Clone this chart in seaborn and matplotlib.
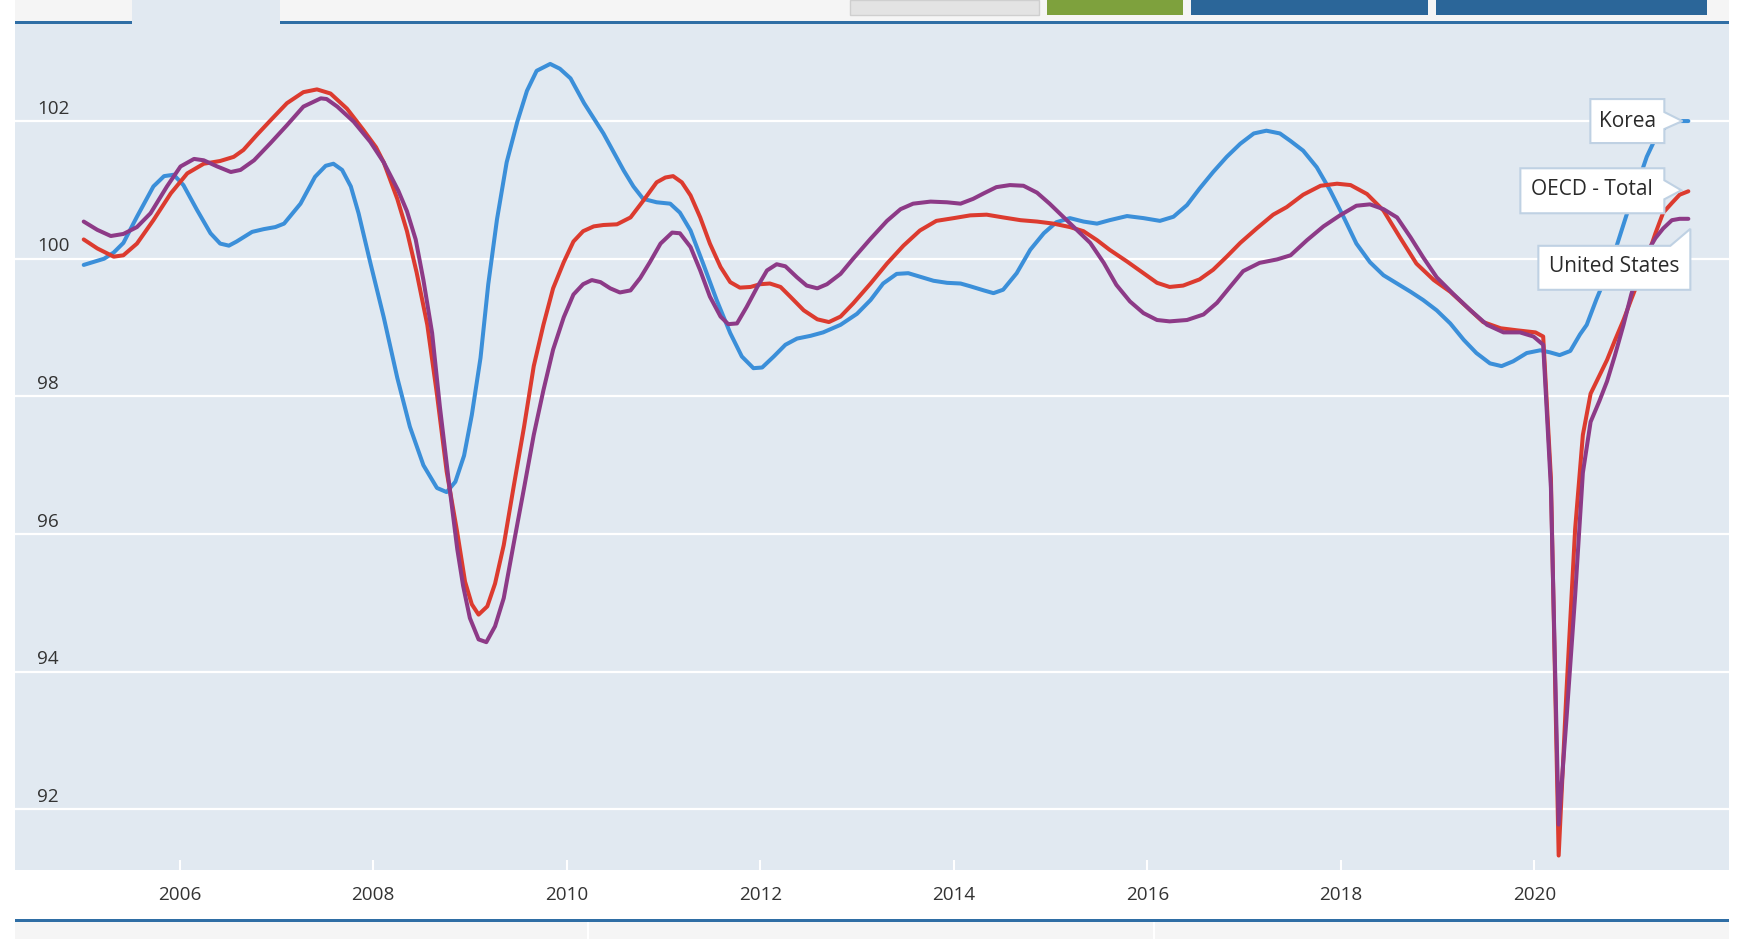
import pandas as pd
import matplotlib.pyplot as plt
import matplotlib.patches as mpatches
import matplotlib.transforms as mtransforms
import seaborn as sns

# values (decimal year, CLI value)
korea_year = [2005.01, 2005.22, 2005.32, 2005.42, 2005.56, 2005.73, 2005.84, 2005.94, 2006.04, 2006.18,
              2006.32, 2006.42, 2006.51, 2006.59, 2006.75, 2006.87, 2006.99, 2007.08, 2007.25, 2007.40,
              2007.51, 2007.59, 2007.68, 2007.77, 2007.85, 2007.97, 2008.11, 2008.25, 2008.38, 2008.52,
              2008.66, 2008.76, 2008.85, 2008.94, 2009.02, 2009.11, 2009.19, 2009.28, 2009.38, 2009.49,
              2009.59, 2009.69, 2009.83, 2009.93, 2010.04, 2010.18, 2010.38, 2010.59, 2010.69, 2010.79,
              2010.93, 2011.07, 2011.17, 2011.28, 2011.41, 2011.55, 2011.69, 2011.81, 2011.93, 2012.02,
              2012.14, 2012.26, 2012.38, 2012.52, 2012.65, 2012.83, 2013.00, 2013.14, 2013.27, 2013.41,
              2013.53, 2013.65, 2013.79, 2013.93, 2014.07, 2014.17, 2014.31, 2014.41, 2014.51, 2014.65,
              2014.79, 2014.93, 2015.06, 2015.20, 2015.34, 2015.48, 2015.61, 2015.79, 2015.96, 2016.13,
              2016.27, 2016.41, 2016.54, 2016.68, 2016.82, 2016.96, 2017.10, 2017.23, 2017.37, 2017.48,
              2017.61, 2017.75, 2017.89, 2018.03, 2018.16, 2018.30, 2018.44, 2018.58, 2018.72, 2018.85,
              2018.99, 2019.13, 2019.27, 2019.40, 2019.54, 2019.66, 2019.78, 2019.92, 2020.06, 2020.16,
              2020.26, 2020.37, 2020.47, 2020.54, 2020.64, 2020.75, 2020.85, 2020.95, 2021.06, 2021.16,
              2021.26, 2021.37, 2021.47, 2021.59]
korea_cli = [99.91, 100.00, 100.09, 100.23, 100.61, 101.05, 101.20, 101.22, 101.07, 100.71,
             100.37, 100.22, 100.19, 100.25, 100.39, 100.43, 100.46, 100.51, 100.80, 101.19,
             101.35, 101.38, 101.29, 101.05, 100.66, 99.95, 99.15, 98.27, 97.56, 97.00,
             96.67, 96.61, 96.76, 97.14, 97.73, 98.56, 99.63, 100.57, 101.40, 101.99,
             102.44, 102.73, 102.83, 102.76, 102.62, 102.26, 101.82, 101.28, 101.05, 100.87,
             100.82, 100.80, 100.67, 100.41, 99.93, 99.40, 98.92, 98.58, 98.41, 98.42,
             98.58, 98.75, 98.84, 98.88, 98.93, 99.04, 99.20, 99.40, 99.64, 99.78,
             99.79, 99.74, 99.68, 99.65, 99.64, 99.60, 99.54, 99.50, 99.55, 99.79,
             100.13, 100.37, 100.53, 100.59, 100.54, 100.51, 100.56, 100.62, 100.59, 100.55,
             100.61, 100.78, 101.02, 101.26, 101.48, 101.67, 101.82, 101.86, 101.82, 101.71,
             101.57, 101.33, 100.99, 100.60, 100.22, 99.95, 99.76, 99.64, 99.52, 99.40,
             99.25, 99.06, 98.82, 98.63, 98.48, 98.44, 98.51, 98.63, 98.67, 98.64,
             98.60, 98.66, 98.90, 99.04, 99.41, 99.78, 100.19, 100.63, 101.07, 101.48,
             101.78, 101.94, 102.00, 102.00]

oecd_year = [2005.01, 2005.15, 2005.32, 2005.42, 2005.56, 2005.73, 2005.91, 2006.08, 2006.25, 2006.42,
             2006.56, 2006.66, 2006.80, 2006.94, 2007.11, 2007.28, 2007.42, 2007.56, 2007.73, 2007.90,
             2008.03, 2008.11, 2008.25, 2008.35, 2008.45, 2008.56, 2008.66, 2008.76, 2008.87, 2008.95,
             2009.02, 2009.09, 2009.18, 2009.26, 2009.35, 2009.45, 2009.56, 2009.66, 2009.76, 2009.86,
             2009.97, 2010.07, 2010.17, 2010.28, 2010.38, 2010.52, 2010.66, 2010.79, 2010.93, 2011.02,
             2011.10, 2011.19, 2011.28, 2011.38, 2011.48, 2011.59, 2011.69, 2011.79, 2011.90, 2012.00,
             2012.10, 2012.21, 2012.31, 2012.45, 2012.59, 2012.71, 2012.83, 2012.96, 2013.14, 2013.31,
             2013.48, 2013.65, 2013.82, 2014.00, 2014.17, 2014.34, 2014.51, 2014.69, 2014.86, 2015.03,
             2015.20, 2015.34, 2015.48, 2015.61, 2015.79, 2015.96, 2016.10, 2016.23, 2016.37, 2016.54,
             2016.68, 2016.82, 2016.96, 2017.13, 2017.30, 2017.44, 2017.61, 2017.79, 2017.96, 2018.10,
             2018.27, 2018.44, 2018.61, 2018.78, 2018.96, 2019.13, 2019.30, 2019.47, 2019.65, 2019.82,
             2019.95, 2020.01, 2020.09, 2020.17, 2020.25, 2020.33, 2020.42, 2020.50, 2020.58, 2020.67,
             2020.75, 2020.83, 2020.92, 2021.00, 2021.08, 2021.17, 2021.25, 2021.33, 2021.42, 2021.50,
             2021.59]
oecd_cli = [100.28, 100.15, 100.03, 100.05, 100.22, 100.56, 100.95, 101.24, 101.38, 101.42,
            101.48, 101.58, 101.80, 102.01, 102.26, 102.42, 102.46, 102.40, 102.18, 101.87,
            101.62, 101.40, 100.87, 100.40, 99.80, 99.04, 98.03, 96.91, 96.02, 95.31,
            94.98, 94.83, 94.95, 95.28, 95.84, 96.67, 97.56, 98.44, 99.04, 99.57,
            99.95, 100.25, 100.40, 100.47, 100.49, 100.50, 100.60, 100.84, 101.11, 101.18,
            101.20, 101.11, 100.92, 100.60, 100.22, 99.88, 99.66, 99.58, 99.59, 99.63,
            99.64, 99.59, 99.45, 99.25, 99.12, 99.08, 99.16, 99.35, 99.64, 99.93,
            100.19, 100.41, 100.55, 100.59, 100.63, 100.64, 100.60, 100.56, 100.54, 100.51,
            100.46, 100.40, 100.27, 100.13, 99.96, 99.79, 99.65, 99.59, 99.61, 99.70,
            99.84, 100.03, 100.23, 100.44, 100.64, 100.75, 100.93, 101.06, 101.09, 101.07,
            100.94, 100.70, 100.31, 99.93, 99.69, 99.52, 99.30, 99.08, 98.99, 98.96,
            98.94, 98.93, 98.87, 96.81, 91.33, 93.70, 96.07, 97.44, 98.04, 98.30,
            98.53, 98.81, 99.11, 99.41, 99.70, 100.04, 100.37, 100.67, 100.81, 100.93,
            100.98]

us_year = [2005.01, 2005.15, 2005.29, 2005.42, 2005.56, 2005.70, 2005.87, 2006.01, 2006.15, 2006.25,
           2006.39, 2006.53, 2006.63, 2006.77, 2006.94, 2007.11, 2007.28, 2007.46, 2007.52, 2007.63,
           2007.80, 2007.97, 2008.11, 2008.26, 2008.35, 2008.44, 2008.52, 2008.61, 2008.69, 2008.78,
           2008.87, 2008.93, 2009.00, 2009.09, 2009.17, 2009.26, 2009.35, 2009.45, 2009.56, 2009.66,
           2009.76, 2009.86, 2009.97, 2010.07, 2010.17, 2010.26, 2010.35, 2010.45, 2010.55, 2010.66,
           2010.76, 2010.86, 2010.97, 2011.09, 2011.17, 2011.28, 2011.38, 2011.48, 2011.59, 2011.67,
           2011.76, 2011.86, 2011.97, 2012.07, 2012.17, 2012.26, 2012.38, 2012.48, 2012.59, 2012.69,
           2012.83, 2012.96, 2013.14, 2013.31, 2013.45, 2013.58, 2013.76, 2013.93, 2014.07, 2014.20,
           2014.31, 2014.44, 2014.58, 2014.72, 2014.86, 2014.99, 2015.13, 2015.27, 2015.41, 2015.55,
           2015.68, 2015.82, 2015.96, 2016.10, 2016.23, 2016.41, 2016.58, 2016.72, 2016.86, 2016.99,
           2017.16, 2017.34, 2017.48, 2017.65, 2017.82, 2017.99, 2018.16, 2018.30, 2018.44, 2018.58,
           2018.72, 2018.85, 2018.99, 2019.16, 2019.34, 2019.51, 2019.68, 2019.85, 2019.99, 2020.09,
           2020.17, 2020.25, 2020.33, 2020.42, 2020.50, 2020.58, 2020.67, 2020.75, 2020.83, 2020.92,
           2021.00, 2021.08, 2021.17, 2021.25, 2021.33, 2021.42, 2021.50, 2021.59]
us_cli = [100.54, 100.42, 100.33, 100.36, 100.46, 100.66, 101.05, 101.34, 101.45, 101.43,
          101.34, 101.26, 101.29, 101.43, 101.68, 101.94, 102.21, 102.33, 102.32, 102.21,
          101.99, 101.70, 101.40, 100.99, 100.69, 100.28, 99.69, 98.92, 97.85, 96.79,
          95.78, 95.25, 94.78, 94.47, 94.43, 94.66, 95.07, 95.84, 96.67, 97.44,
          98.09, 98.68, 99.15, 99.48, 99.63, 99.69, 99.66, 99.57, 99.51, 99.54,
          99.72, 99.95, 100.22, 100.38, 100.37, 100.17, 99.83, 99.45, 99.16, 99.05,
          99.06, 99.30, 99.59, 99.83, 99.92, 99.89, 99.73, 99.61, 99.57, 99.63,
          99.78, 100.00, 100.29, 100.55, 100.72, 100.80, 100.83, 100.82, 100.80, 100.87,
          100.95, 101.04, 101.07, 101.06, 100.96, 100.80, 100.61, 100.42, 100.23, 99.94,
          99.62, 99.38, 99.21, 99.11, 99.09, 99.11, 99.19, 99.36, 99.60, 99.82,
          99.94, 99.99, 100.05, 100.27, 100.47, 100.63, 100.77, 100.79, 100.72, 100.60,
          100.31, 100.02, 99.73, 99.49, 99.25, 99.04, 98.93, 98.93, 98.87, 98.75,
          96.67, 91.78, 93.30, 95.10, 96.89, 97.63, 97.93, 98.22, 98.59, 99.04,
          99.48, 99.85, 100.11, 100.30, 100.44, 100.56, 100.58, 100.58]

series_names = ['Korea', 'OECD - Total', 'United States']
series_colors = ['#3b8fd9', '#dc3b2f', '#8d3a87']
y_ticks = [92, 94, 96, 98, 100, 102]
x_ticks = [2006, 2008, 2010, 2012, 2014, 2016, 2018, 2020]

W, H = 1758, 939
PLOT_BG = '#e1e9f1'
PAGE_GREY = '#f5f5f5'
OECD_BLUE = '#2f6ea5'
TEXT = '#333333'

frames = []
for name, yr, val in zip(series_names, [korea_year, oecd_year, us_year], [korea_cli, oecd_cli, us_cli]):
    frames.append(pd.DataFrame({'year': yr, 'cli': val, 'country': name}))
df = pd.concat(frames, ignore_index=True)

sns.set_style('white')
plt.rcParams['font.family'] = ['Open Sans', 'DejaVu Sans']

fig = plt.figure(figsize=(W / 100, H / 100), dpi=100, facecolor='white')
ax = fig.add_axes([15 / W, 1 - 870 / H, (1729 - 15) / W, (870 - 24) / H])
ax.set_facecolor(PLOT_BG)

sns.lineplot(data=df, x='year', y='cli', hue='country', hue_order=series_names,
             palette=dict(zip(series_names, series_colors)), estimator=None, sort=False,
             linewidth=2.9, legend=False, ax=ax,
             solid_joinstyle='round', solid_capstyle='round')

ax.set_xlim(2004.30, 2022.01)
ax.set_ylim(91.12, 103.41)
ax.set_xlabel('')
ax.set_ylabel('')
for s in ax.spines.values():
    s.set_visible(False)

# grid + axis ticks
ax.set_yticks(y_ticks)
ax.yaxis.grid(True, color='white', linewidth=1.6)
ax.xaxis.grid(False)
ax.set_axisbelow(True)
ax.tick_params(axis='y', left=False, labelleft=False)
ax.set_xticks(x_ticks)
ax.set_xticklabels([str(t) for t in x_ticks])
ax.tick_params(axis='x', direction='in', length=7.2, width=1.5, color='white',
               pad=11.5, labelsize=13.6, labelcolor=TEXT, bottom=True)

# y labels sit inside the plot, just above each grid line
for v in y_ticks:
    ax.annotate(str(v), xy=(0, v), xycoords=('axes fraction', 'data'),
                xytext=(22, 12.5), textcoords='offset pixels',
                ha='left', va='center', fontsize=13.6, color=TEXT)

# callout labels at the end of each series
ident = mtransforms.IdentityTransform()
callouts = {
    'Korea': ([(-98, -22), (-24, -22), (-24, -9), (-6, 0), (-24, 8), (-24, 22), (-98, 22)], (-61, 0)),
    'OECD - Total': ([(-168, -23), (-24, -23), (-24, -11), (-7, -1), (-24, 8), (-24, 22), (-168, 22)], (-96, -2)),
    'United States': ([(-150, 27), (-18, 27), (2, 10), (2, 71), (-150, 71)], (-74, 48)),
}
for name, yr, val in zip(series_names, [korea_year, oecd_year, us_year], [korea_cli, oecd_cli, us_cli]):
    ex, ey = ax.transData.transform((yr[-1], val[-1]))
    shape, (tx, ty) = callouts[name]
    verts = [(ex + dx, ey - dy) for dx, dy in shape]
    fig.add_artist(mpatches.Polygon(verts, closed=True, facecolor='white', edgecolor='#bfd1e3',
                                    linewidth=1.5, transform=ident, zorder=5))
    fig.text(ex + tx, ey - ty, name, transform=ident, ha='center', va='center',
             fontsize=15, color='#2a2a2a', zorder=6)


# page chrome above and below the chart (pixel boxes, top-down)
def box(x0, y0, x1, y1, color, ec='none'):
    fig.add_artist(mpatches.Rectangle((x0, H - y1), x1 - x0, y1 - y0, facecolor=color,
                                      edgecolor=ec, linewidth=1, transform=ident, zorder=1))


box(15, 0, 1729, 22, PAGE_GREY)
box(15, 21, 1729, 24, OECD_BLUE)
box(132, 0, 280, 24, PLOT_BG)
box(850, 0, 1039, 15, '#e3e3e3', ec='#cfcfcf')
box(1047, 0, 1183, 15, '#7ea13d')
box(1191, 0, 1428, 15, '#2b6699')
box(1436, 0, 1707, 15, '#2b6699')
box(15, 919, 1729, 922, OECD_BLUE)
box(15, 922, 1729, 939, PAGE_GREY)
box(587, 922, 589, 939, 'white')
box(1153, 922, 1155, 939, 'white')

fig.savefig('out.png', dpi=100, facecolor='white')
plt.close(fig)
